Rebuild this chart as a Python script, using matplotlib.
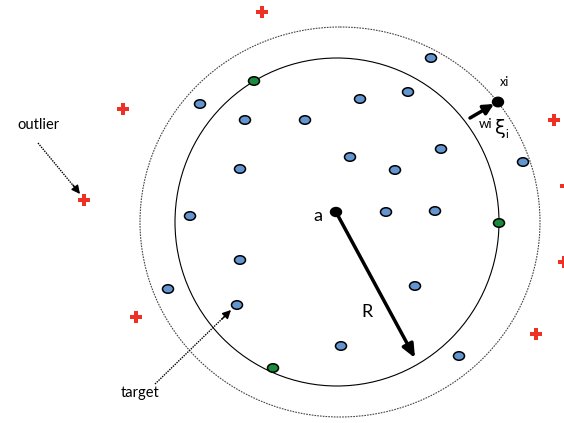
import matplotlib
matplotlib.use("Agg")
import matplotlib.pyplot as plt
from matplotlib.patches import Ellipse

plt.rcParams['font.family'] = ['Lato', 'DejaVu Sans']

# positions in picture units (x right, y down)
target_x = [431, 200, 245, 305, 360, 408, 240, 350, 395, 441, 523, 190, 240, 237,
            386, 435, 415, 341, 459, 168]
target_y = [58, 104, 120, 120, 99, 92, 169, 157, 170, 149, 162, 216, 260, 305,
            212, 211, 286, 346, 356, 289]
sv_x = [254, 499, 273]        # support vectors on the boundary
sv_y = [81, 223, 368]
outlier_x = [262, 123, 84, 136, 554, 566, 564, 536]
outlier_y = [12, 109, 200, 317, 120, 186, 262, 334]
center = (337, 222)
inner_w, inner_h = 324, 328
outer_w, outer_h = 400, 390
a_pt = (336, 212)
xi_pt = (498, 102)

fig = plt.figure(figsize=(5.64, 4.23), dpi=100)
ax = fig.add_axes([0, 0, 1, 1])
ax.set_xlim(0, 564)
ax.set_ylim(423, 0)
ax.axis('off')

ax.add_patch(Ellipse((340, 222), outer_w, outer_h, fill=False, ec='#444444',
                     lw=0.8, ls=(0, (1.5, 1))))
ax.add_patch(Ellipse(center, inner_w, inner_h, fill=False, ec='black', lw=0.8))

for x, y in zip(target_x, target_y):
    ax.add_patch(Ellipse((x, y), 11, 8.5, fc='#6395D0', ec='black', lw=1.1, zorder=3))
for x, y in zip(sv_x, sv_y):
    ax.add_patch(Ellipse((x, y), 11, 8.5, fc='#1A8A3C', ec='black', lw=1.1, zorder=3))

ax.scatter(outlier_x, outlier_y, marker='P', s=75, c='#EE3124', lw=0, zorder=3)

# center a and radius R
ax.add_patch(Ellipse(a_pt, 11, 9, fc='black', ec='black', zorder=4))
ax.annotate('', xy=(415, 358), xytext=a_pt,
            arrowprops=dict(arrowstyle='-|>,head_length=0.8,head_width=0.35',
                            lw=2.5, color='black', shrinkA=0, shrinkB=0))
ax.text(318, 216, 'a', fontsize=13, ha='center', va='center')
ax.text(367, 312, 'R', fontsize=13, ha='center', va='center')

# slack xi
ax.add_patch(Ellipse(xi_pt, 11, 9.5, fc='black', ec='black', zorder=4))
ax.annotate('', xy=(494, 104), xytext=(470, 118),
            arrowprops=dict(arrowstyle='-|>,head_length=0.6,head_width=0.3',
                            lw=2.5, color='black', shrinkA=0, shrinkB=0))
ax.text(505, 82, 'xi', fontsize=9, ha='center', va='center')
ax.text(486, 124, 'wi', fontsize=9.5, ha='center', va='center')
ax.text(500, 129, 'ξ', fontsize=14, ha='center', va='center', family='DejaVu Sans')
ax.text(507, 135, 'i', fontsize=8, ha='center', va='center')

# labels with dotted pointers
ax.text(38, 125, 'outlier', fontsize=10.5, ha='center', va='center')
ax.plot([38, 76], [143, 189], color='black', lw=1.0, ls=(0, (1, 0.8)))
ax.annotate('', xy=(80, 194), xytext=(73, 185),
            arrowprops=dict(arrowstyle='-|>,head_length=0.5,head_width=0.25',
                            lw=1.0, color='black', shrinkA=0, shrinkB=0))
ax.text(140, 393, 'target', fontsize=10.5, ha='center', va='center')
ax.plot([155, 226], [384, 315], color='black', lw=1.0, ls=(0, (1, 0.8)))
ax.annotate('', xy=(231, 310), xytext=(222, 319),
            arrowprops=dict(arrowstyle='-|>,head_length=0.5,head_width=0.25',
                            lw=1.0, color='black', shrinkA=0, shrinkB=0))

fig.savefig('out.png', dpi=100)
